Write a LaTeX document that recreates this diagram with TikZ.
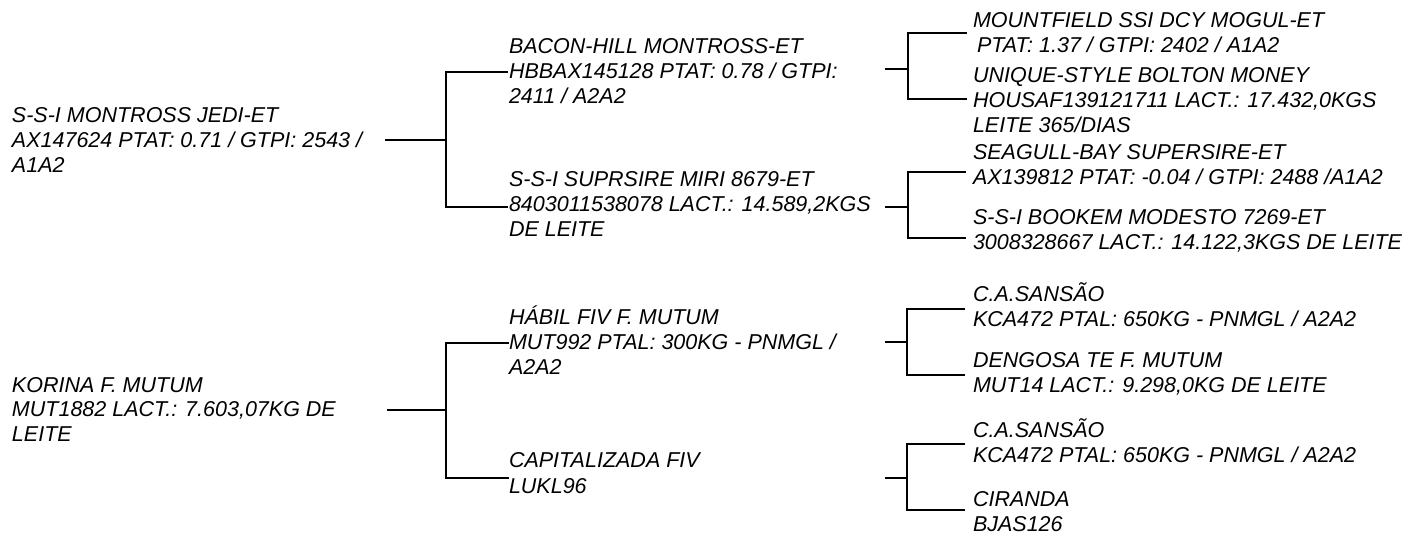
\documentclass[tikz,border=0pt]{standalone}
\usepackage{fontspec}
\setmainfont{Liberation Sans}
\begin{document}
\begin{tikzpicture}[x=1pt,y=-1pt,
  lbl/.style={anchor=base west, inner sep=0pt, outer sep=0pt, align=left,
    font=\itshape\fontsize{21.5}{25}\selectfont},
  link/.style={line width=2.2pt, line join=miter}]
\useasboundingbox (0,0) rectangle (1403,534);
% ---- text nodes (anchored at the baseline of the last line) ----
\node[lbl] (r1) at (12,173) {S-S-I MONTROSS JEDI-ET\\AX147624 PTAT: 0.71 / GTPI: 2543 /\\A1A2};
\node[lbl] (r2) at (12,442) {KORINA F. MUTUM\\MUT1882 LACT.: 7.603,07KG DE\\LEITE};
\node[lbl] (s1) at (509,104) {BACON-HILL MONTROSS-ET\\HBBAX145128 PTAT: 0.78 / GTPI:\\2411 / A2A2};
\node[lbl] (d1) at (509,237) {S-S-I SUPRSIRE MIRI 8679-ET\\8403011538078 LACT.: 14.589,2KGS\\DE LEITE};
\node[lbl] (s2) at (509,375) {HÁBIL FIV F. MUTUM\\MUT992 PTAL: 300KG - PNMGL /\\A2A2};
\node[lbl] (d2) at (509,493) {CAPITALIZADA FIV\\LUKL96};
\node[lbl] (ss1) at (973,53) {MOUNTFIELD SSI DCY MOGUL-ET\\\hspace{4pt}PTAT: 1.37 / GTPI: 2402 / A1A2};
\node[lbl] (sd1) at (973,133) {UNIQUE-STYLE BOLTON MONEY\\HOUSAF139121711 LACT.: 17.432,0KGS\\LEITE 365/DIAS};
\node[lbl] (ds1) at (973,185) {SEAGULL-BAY SUPERSIRE-ET\\AX139812 PTAT: -0.04 / GTPI: 2488 /A1A2};
\node[lbl] (dd1) at (973,250) {S-S-I BOOKEM MODESTO 7269-ET\\3008328667 LACT.: 14.122,3KGS DE LEITE};
\node[lbl] (ss2) at (973,327) {C.A.SANSÃO\\KCA472 PTAL: 650KG - PNMGL / A2A2};
\node[lbl] (sd2) at (973,393) {DENGOSA TE F. MUTUM\\MUT14 LACT.: 9.298,0KG DE LEITE};
\node[lbl] (ds2) at (973,462) {C.A.SANSÃO\\KCA472 PTAL: 650KG - PNMGL / A2A2};
\node[lbl] (dd2) at (973,531) {CIRANDA\\BJAS126};
% ---- connector points ----
\coordinate (r1o) at (385,140);  \coordinate (r1j) at (446,140);
\coordinate (r1t) at (446,72);   \coordinate (s1i) at (508,72);
\coordinate (r1b) at (446,207);  \coordinate (d1i) at (508,207);
\coordinate (r2o) at (387,410);  \coordinate (r2j) at (446,410);
\coordinate (r2t) at (446,343);  \coordinate (s2i) at (509,343);
\coordinate (r2b) at (446,478);  \coordinate (d2i) at (509,478);
\coordinate (s1o) at (885,69);   \coordinate (s1j) at (908,69);
\coordinate (s1t) at (908,33);   \coordinate (ss1i) at (967,33);
\coordinate (s1b) at (908,99);   \coordinate (sd1i) at (967,99);
\coordinate (d1o) at (885,207);  \coordinate (d1j) at (908,207);
\coordinate (d1t) at (908,172);  \coordinate (ds1i) at (966,172);
\coordinate (d1b) at (908,238);  \coordinate (dd1i) at (966,238);
\coordinate (s2o) at (885,342);  \coordinate (s2j) at (907,342);
\coordinate (s2t) at (907,309);  \coordinate (ss2i) at (965,309);
\coordinate (s2b) at (907,375);  \coordinate (sd2i) at (965,375);
\coordinate (d2o) at (885,478);  \coordinate (d2j) at (907,478);
\coordinate (d2t) at (907,444);  \coordinate (ds2i) at (965,444);
\coordinate (d2b) at (907,510);  \coordinate (dd2i) at (965,510);
% ---- connectors ----
\foreach \p in {r1,r2,s1,d1,s2,d2}{
  \draw[link] (\p o) -- (\p j);
}
\draw[link] (s1i) -- (r1t) -- (r1b) -- (d1i);
\draw[link] (s2i) -- (r2t) -- (r2b) -- (d2i);
\draw[link] (ss1i) -- (s1t) -- (s1b) -- (sd1i);
\draw[link] (ds1i) -- (d1t) -- (d1b) -- (dd1i);
\draw[link] (ss2i) -- (s2t) -- (s2b) -- (sd2i);
\draw[link] (ds2i) -- (d2t) -- (d2b) -- (dd2i);
\end{tikzpicture}
\end{document}
